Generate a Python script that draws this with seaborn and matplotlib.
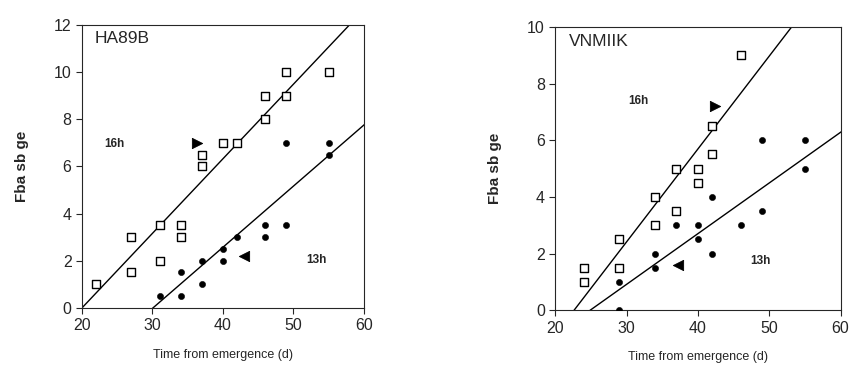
import numpy as np
import pandas as pd
import matplotlib
matplotlib.use("Agg")
import matplotlib.pyplot as plt
import seaborn as sns

# HA89B
ha_sq_x = [22, 27, 27, 31, 31, 34, 34, 37, 37, 40, 42, 46, 46, 49, 49, 55]
ha_sq_y = [1, 3, 1.5, 3.5, 2, 3.5, 3, 6.5, 6, 7, 7, 9, 8, 10, 9, 10]
ha_ci_x = [31, 34, 34, 37, 37, 40, 40, 42, 46, 46, 49, 49, 55, 55]
ha_ci_y = [0.5, 0.5, 1.5, 1, 2, 2.5, 2, 3, 3.5, 3, 7, 3.5, 7, 6.5]
ha_tri_right = (36.3, 7.0)
ha_tri_left = (43.0, 2.2)
ha_fit16 = (0.316, -6.32)   # slope, intercept
ha_fit13 = (0.259, -7.79)

# VNMIIK
vn_sq_x = [24, 24, 29, 29, 34, 34, 37, 37, 40, 40, 42, 42, 46]
vn_sq_y = [1.5, 1, 2.5, 1.5, 4, 3, 5, 3.5, 5, 4.5, 6.5, 5.5, 9]
vn_ci_x = [29, 29, 34, 34, 37, 40, 40, 42, 42, 46, 49, 49, 55, 55]
vn_ci_y = [1, 0, 2, 1.5, 3, 3, 2.5, 4, 2, 3, 6, 3.5, 6, 5]
vn_tri_right = (42.4, 7.2)
vn_tri_left = (37.2, 1.6)
vn_fit16 = (0.328, -7.43)
vn_fit13 = (0.179, -4.46)

sns.set_style("ticks")
plt.rcParams['font.family'] = ['Liberation Sans', 'DejaVu Sans']

fig = plt.figure(figsize=(8.49, 3.75), dpi=100)
ax1 = fig.add_axes([0.0966, 0.179, 0.332, 0.755])
ax2 = fig.add_axes([0.654, 0.173, 0.336, 0.755])


def draw_panel(ax, sq_x, sq_y, ci_x, ci_y, tri_r, tri_l, fit16, fit13, ymax, name, name_xy, t16, t13):
    sq = pd.DataFrame({"x": sq_x, "y": sq_y})
    ci = pd.DataFrame({"x": ci_x, "y": ci_y})
    xs = np.array([15.0, 65.0])
    for slope, icpt in (fit16, fit13):
        sns.lineplot(x=xs, y=slope * xs + icpt, ax=ax, color="black", lw=1.0)
    sns.scatterplot(data=sq, x="x", y="y", ax=ax, marker="s", s=28,
                    facecolor="white", edgecolor="black", linewidth=1.0, zorder=3)
    sns.scatterplot(data=ci, x="x", y="y", ax=ax, marker="o", s=20,
                    color="black", edgecolor="black", zorder=3)
    sns.scatterplot(x=[tri_r[0]], y=[tri_r[1]], ax=ax, marker=">", s=55,
                    color="black", edgecolor="black", zorder=3)
    sns.scatterplot(x=[tri_l[0]], y=[tri_l[1]], ax=ax, marker="<", s=55,
                    color="black", edgecolor="black", zorder=3)
    ax.set_xlim(20, 60)
    ax.set_ylim(0, ymax)
    ax.set_xticks([20, 30, 40, 50, 60])
    ax.set_yticks(np.arange(0, ymax + 1, 2))
    ax.tick_params(labelsize=11.5, direction="out", length=4, width=0.8)
    for sp in ax.spines.values():
        sp.set_linewidth(0.8)
    ax.set_xlabel("Time from emergence (d)", fontsize=9, labelpad=11)
    ax.set_ylabel("Fba sb ge", fontsize=11, fontweight="bold", labelpad=18)
    ax.text(name_xy[0], name_xy[1], name, fontsize=12.5, ha="left", va="center")
    ax.text(t16[0], t16[1], "16h", fontsize=8.5, fontweight="bold", ha="center", va="center")
    ax.text(t13[0], t13[1], "13h", fontsize=8.5, fontweight="bold", ha="center", va="center")


draw_panel(ax1, ha_sq_x, ha_sq_y, ha_ci_x, ha_ci_y, ha_tri_right, ha_tri_left,
           ha_fit16, ha_fit13, 12, "HA89B", (21.8, 11.4), (24.6, 6.95), (53.3, 2.05))
draw_panel(ax2, vn_sq_x, vn_sq_y, vn_ci_x, vn_ci_y, vn_tri_right, vn_tri_left,
           vn_fit16, vn_fit13, 10, "VNMIIK", (21.9, 9.5), (31.7, 7.4), (48.8, 1.75))

fig.savefig("out.png", dpi=100)
